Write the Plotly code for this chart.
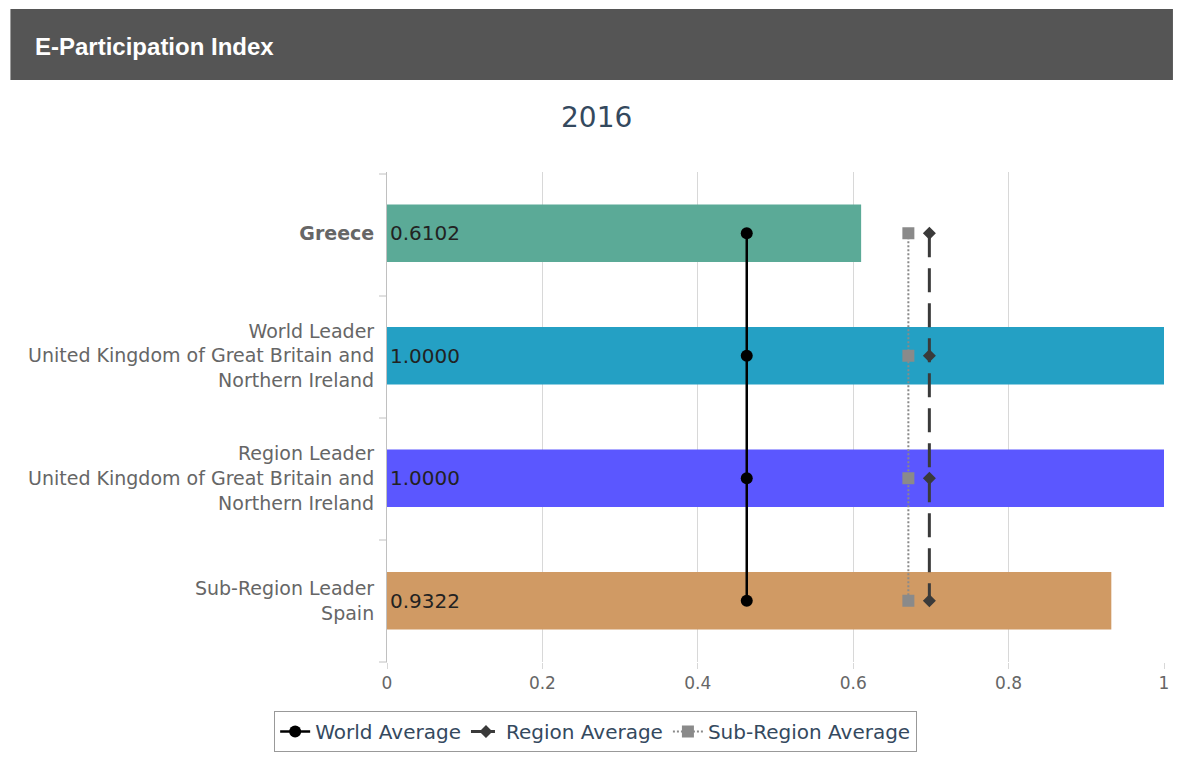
import plotly.graph_objects as go

categories = [
    "<b>Greece</b>",
    "World Leader<br>United Kingdom of Great Britain and<br>Northern Ireland",
    "Region Leader<br>United Kingdom of Great Britain and<br>Northern Ireland",
    "Sub-Region Leader<br>Spain",
]
values = [0.6102, 1.0000, 1.0000, 0.9322]
value_labels = ["0.6102", "1.0000", "1.0000", "0.9322"]
bar_colors = ["#5BAA97", "#24A0C4", "#5B57FF", "#D09A64"]
world_avg = [0.463, 0.463, 0.463, 0.463]
region_avg = [0.698, 0.698, 0.698, 0.698]
subregion_avg = [0.671, 0.671, 0.671, 0.671]
x_ticks = [0, 0.2, 0.4, 0.6, 0.8, 1]
x_tick_labels = ["0", "0.2", "0.4", "0.6", "0.8", "1"]

W, H = 1178, 763
L, R, T, B = 387, 9, 172, 101
PW, PH = W - L - R, H - T - B

def px(x):
    return (x - L) / PW

def py(y):
    return (H - B - y) / PH

FONT = "DejaVu Sans"

fig = go.Figure()
fig.add_trace(go.Bar(
    x=values, y=categories, orientation="h",
    marker=dict(color=bar_colors, line=dict(width=0)),
    width=0.47,
    text=value_labels, textposition="inside", insidetextanchor="start",
    textfont=dict(family=FONT, size=20, color="#222222"),
    showlegend=False, hoverinfo="skip",
))
fig.add_trace(go.Scatter(
    x=world_avg, y=categories, mode="lines+markers", name="World Average",
    line=dict(color="#000000", width=2.5),
    marker=dict(symbol="circle", size=12, color="#000000"),
))
fig.add_trace(go.Scatter(
    x=region_avg, y=categories, mode="lines+markers", name="Region Average",
    line=dict(color="#3a3a3a", width=3, dash="24px,11px"),
    marker=dict(symbol="diamond", size=10, color="#3a3a3a"),
))
fig.add_trace(go.Scatter(
    x=subregion_avg, y=categories, mode="lines+markers", name="Sub-Region Average",
    line=dict(color="#8a8a8a", width=2, dash="2px,2px"),
    marker=dict(symbol="square", size=12, color="#8a8a8a"),
))

fig.update_layout(
    width=W, height=H,
    margin=dict(l=L, r=R, t=T, b=B, pad=0),
    paper_bgcolor="#ffffff", plot_bgcolor="#ffffff",
    font=dict(family=FONT, color="#666666"),
    xaxis=dict(
        range=[0, 1], tickvals=x_ticks, ticktext=x_tick_labels,
        showgrid=True, gridcolor="#d8d8d8", gridwidth=1,
        zeroline=False, showline=False,
        ticks="outside", ticklen=6, tickcolor="#d8d8d8",
        tickfont=dict(family=FONT, size=17, color="#666666"),
        fixedrange=True,
    ),
    yaxis=dict(
        autorange="reversed", showgrid=False, showline=True,
        linecolor="#c0c0c0", linewidth=1,
        ticks="", tickfont=dict(family=FONT, size=19, color="#666666"),
        ticklabelstandoff=8,
        fixedrange=True,
    ),
    legend=dict(
        orientation="h", x=px(597), xanchor="center", y=py(711), yanchor="top",
        bordercolor="#999999", borderwidth=1, bgcolor="#ffffff",
        font=dict(family=FONT, size=20, color="#34495e"),
        itemwidth=30,
    ),
    shapes=[
        dict(type="rect", xref="paper", yref="paper",
             x0=px(8), x1=px(1178), y0=py(80), y1=py(9),
             fillcolor="#555555", line=dict(width=0), layer="above"),
    ] + [
        dict(type="line", xref="paper", yref="paper",
             x0=px(379), x1=px(387), y0=py(yy), y1=py(yy),
             line=dict(color="#c0c0c0", width=1))
        for yy in [174, 296, 418, 540, 662]
    ],
    annotations=[
        dict(text="<b>E-Participation Index</b>", xref="paper", yref="paper",
             x=px(31), y=py(46), xanchor="left", yanchor="middle",
             showarrow=False, font=dict(family="Liberation Sans", size=24, color="#ffffff")),
        dict(text="2016", xref="paper", yref="paper",
             x=px(598), y=py(117), xanchor="center", yanchor="middle",
             showarrow=False, font=dict(family=FONT, size=28, color="#34495e")),
    ],
)

fig.write_html("out.html")
